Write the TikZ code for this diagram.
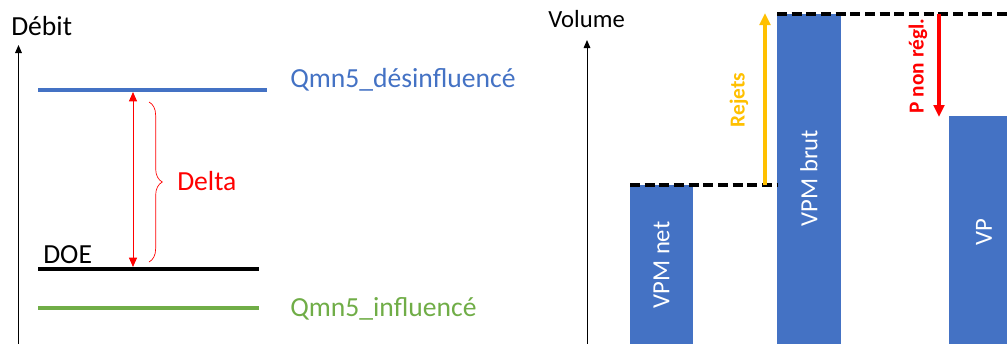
\documentclass[tikz,border=0pt]{standalone}
\usepackage{fontspec}
\setmainfont{Carlito}
\usetikzlibrary{arrows.meta,decorations.pathreplacing}
\definecolor{cblue}{HTML}{4472C4}
\definecolor{cgreen}{HTML}{70AD47}
\definecolor{cyellow}{HTML}{FFC000}
\definecolor{cred}{HTML}{FF0000}
\tikzset{
  axis/.style={line width=0.75pt,-{Triangle[length=6pt,width=5pt]}},
  level/.style={line width=3pt},
  lbl/.style={inner sep=0pt,font=\fontsize{20.7}{24}\selectfont},
  bar/.style={fill=cblue,draw=none},
  barlbl/.style={inner sep=0pt,text=white,rotate=90,font=\fontsize{18.5}{22}\selectfont},
  guide/.style={line width=2.5pt,dash pattern=on 7.5pt off 3.5pt},
  bigarrow/.style={line width=2.4pt,-{Triangle[length=9pt,width=8pt]}},
  vlbl/.style={inner sep=0pt,rotate=90,font=\bfseries\fontsize{16}{19}\selectfont}
}
\begin{document}
\begin{tikzpicture}[x=0.75pt,y=-0.75pt]
\useasboundingbox (0,0) rectangle (1007,343);
\begin{scope}
\clip (0,0) rectangle (1007,343);
% ---------- left chart ----------
\coordinate (ax1b) at (18.5,350);
\coordinate (ax1t) at (18.5,45);
\draw[axis] (ax1b) -- (ax1t);
\node[lbl,anchor=base west] (debit) at (11,35) {Débit};
\coordinate (q1a) at (38,90);
\coordinate (q1b) at (267,90);
\draw[level,cblue] (q1a) -- (q1b);
\node[lbl,anchor=base west,text=cblue] (qdes) at (290,87) {Qmn5\_désinfluencé};
\coordinate (doea) at (38,269);
\coordinate (doeb) at (259,269);
\draw[level,black] (doea) -- (doeb);
\node[lbl,anchor=base west] (doe) at (43,263) {DOE};
\coordinate (q2a) at (38,308);
\coordinate (q2b) at (259,308);
\draw[level,cgreen] (q2a) -- (q2b);
\node[lbl,anchor=base west,text=cgreen] (qinf) at (290,316) {Qmn5\_influencé};
\coordinate (dt) at (133,92);
\coordinate (db) at (133,267);
\draw[cred,line width=0.75pt,{Triangle[length=7pt,width=6pt]}-{Triangle[length=7pt,width=6pt]}] (db) -- (dt);
\coordinate (brt) at (149,102);
\coordinate (brb) at (149,262);
\draw[cred,line width=0.5pt,decorate,decoration={brace,amplitude=10pt}] (brt) -- (brb);
\node[lbl,anchor=base west,text=cred] (delta) at (177,190) {Delta};
% ---------- right chart ----------
\coordinate (ax2b) at (587,350);
\coordinate (ax2t) at (587,40);
\draw[axis] (ax2b) -- (ax2t);
\node[lbl,anchor=base west,font=\fontsize{18.5}{22}\selectfont] (volume) at (548,27) {Volume};
\fill[bar] (630,185) rectangle (693,360);
\node[barlbl] (vpmnet) at (661.5,265) {VPM net};
\fill[bar] (777,14) rectangle (841,360);
\node[barlbl] (vpmbrut) at (809,178) {VPM brut};
\fill[bar] (949,116) rectangle (1013,360);
\node[barlbl] (vp) at (984,232) {VP};
\coordinate (d1a) at (630,185);
\coordinate (d1b) at (778,185);
\draw[guide] (d1a) -- (d1b);
\coordinate (d2a) at (777,14);
\coordinate (d2b) at (1010,14);
\draw[guide] (d2a) -- (d2b);
\coordinate (ya) at (765,185);
\coordinate (yb) at (765,13);
\draw[bigarrow,cyellow] (ya) -- (yb);
\node[vlbl,text=cyellow] (rejets) at (739,100) {Rejets};
\coordinate (ra) at (939,14);
\coordinate (rb) at (939,117);
\draw[bigarrow,cred] (ra) -- (rb);
\node[vlbl,text=cred] (pnon) at (918,66) {P non régl.};
\end{scope}
\end{tikzpicture}
\end{document}
